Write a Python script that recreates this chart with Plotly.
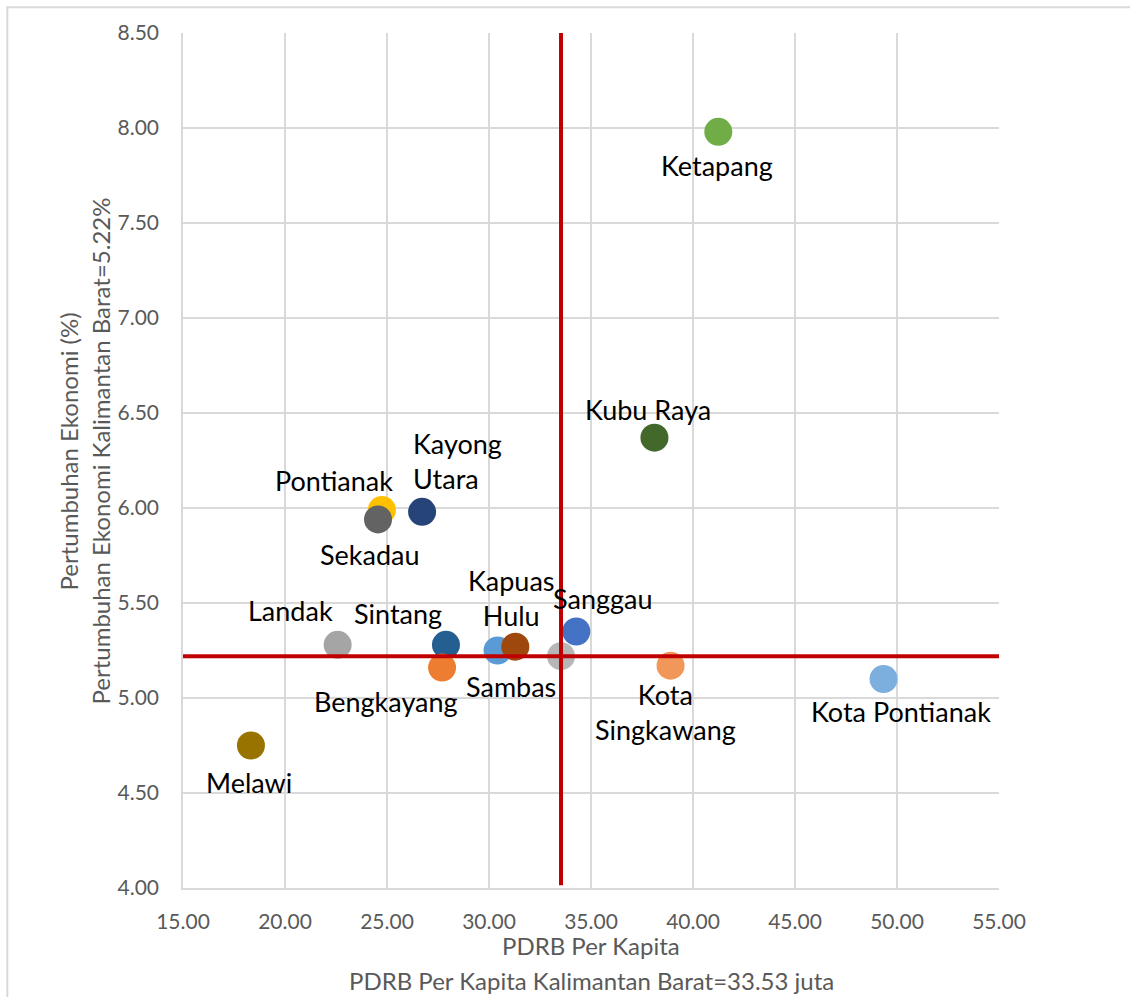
import plotly.graph_objects as go

# Kabupaten/kota data: PDRB per kapita (juta rupiah) vs pertumbuhan ekonomi (%)
regions = [
    "Ketapang", "Kubu Raya", "Kayong<br>Utara", "Pontianak", "Sekadau",
    "Landak", "Sintang", "Bengkayang", "Sambas", "Kapuas<br>Hulu",
    "Sanggau", "Kota<br>Singkawang", "Kota Pontianak", "Melawi", "",
]
pdrb_per_kapita = [41.24, 38.11, 26.72, 24.75, 24.56,
                   22.58, 27.89, 27.70, 30.42, 31.29,
                   34.28, 38.90, 49.34, 18.33, 33.53]
pertumbuhan = [7.98, 6.37, 5.98, 5.99, 5.94,
               5.28, 5.28, 5.16, 5.25, 5.27,
               5.35, 5.17, 5.10, 4.75, 5.22]

# Provincial reference values (Kalimantan Barat)
kalbar_pdrb = 33.53
kalbar_growth = 5.22

x_ticks = [15, 20, 25, 30, 35, 40, 45, 50, 55]
y_ticks = [4.0, 4.5, 5.0, 5.5, 6.0, 6.5, 7.0, 7.5, 8.0, 8.5]

colors = ["#70AD47", "#43682B", "#264478", "#FFC000", "#636363",
          "#A5A5A5", "#255E91", "#ED7D31", "#5B9BD5", "#9E480E",
          "#4472C4", "#F1975A", "#7CAFDD", "#997300", "#B7B7B7"]

# Data-label placement: (dx, dy) offset in px from the marker centre and anchor
label_offsets = [(-1, -34), (-6, 28), (-11, 51), (-48, 29), (-8, -35),
                 (-47, 34), (-48, 31), (-56, -34), (13, -36), (-4, 49),
                 (26, 33), (-5, -46), (17, -32), (-2, -37), (0, 0)]
label_anchor = ["center", "center", "left", "center", "center",
                "center", "center", "center", "center", "center",
                "center", "center", "center", "center", "center"]

FONT = "Lato"

fig = go.Figure()
fig.add_trace(go.Scatter(
    x=pdrb_per_kapita, y=pertumbuhan, mode="markers",
    marker=dict(size=28, color=colors, line=dict(width=0)),
    hoverinfo="skip", showlegend=False,
))

annotations = []
for name, xv, yv, (dx, dy), anchor in zip(regions, pdrb_per_kapita, pertumbuhan,
                                          label_offsets, label_anchor):
    if not name:
        continue
    annotations.append(dict(
        x=xv, y=yv, xref="x", yref="y", text=name, showarrow=False,
        xshift=dx, yshift=dy, xanchor=anchor, yanchor="middle",
        align=anchor, font=dict(family=FONT, size=27, color="#000000"),
    ))

title_font = dict(family=FONT, size=24, color="#595959")
annotations += [
    dict(x=0.5, y=0, xref="paper", yref="paper", text="PDRB Per Kapita",
         showarrow=False, yshift=-57, xanchor="center", yanchor="middle", font=title_font),
    dict(x=0.5, y=0, xref="paper", yref="paper",
         text=f"PDRB Per Kapita Kalimantan Barat={kalbar_pdrb:.2f} juta",
         showarrow=False, yshift=-92, xanchor="center", yanchor="middle", font=title_font),
    dict(x=0, y=0.5, xref="paper", yref="paper", text="Pertumbuhan Ekonomi (%)",
         showarrow=False, xshift=-115, yshift=9, textangle=-90,
         xanchor="center", yanchor="middle", font=title_font),
    dict(x=0, y=0.5, xref="paper", yref="paper",
         text=f"Pertumbuhan Ekonomi Kalimantan Barat={kalbar_growth:.2f}%",
         showarrow=False, xshift=-83, yshift=9, textangle=-90,
         xanchor="center", yanchor="middle", font=title_font),
]

shapes = [
    # chart-area border
    dict(type="rect", xref="paper", yref="paper", x0=-0.2153, x1=1.3, y0=-0.3, y1=1.03,
         line=dict(color="#D9D9D9", width=2), fillcolor="rgba(0,0,0,0)", layer="below"),
    # provincial average lines
    dict(type="line", xref="x", yref="y", x0=kalbar_pdrb, x1=kalbar_pdrb, y0=4.015, y1=8.51,
         line=dict(color="#C00000", width=4)),
    dict(type="line", xref="x", yref="y", x0=15, x1=55, y0=kalbar_growth, y1=kalbar_growth,
         line=dict(color="#C00000", width=4)),
]

axis_common = dict(
    showgrid=True, gridcolor="#D9D9D9", gridwidth=1.5,
    showline=True, linecolor="#D9D9D9", linewidth=1.5,
    zeroline=False, ticks="", tickformat=".2f",
    tickfont=dict(family=FONT, size=21, color="#595959"),
)

fig.update_layout(
    width=1130, height=997,
    margin=dict(l=183, r=131, t=33, b=109),
    paper_bgcolor="white", plot_bgcolor="white",
    xaxis=dict(range=[15, 55], tickvals=x_ticks, ticklabelstandoff=14, **axis_common),
    yaxis=dict(range=[4.0, 8.5], tickvals=y_ticks, ticklabelstandoff=18, **axis_common),
    annotations=annotations, shapes=shapes,
)

fig.write_html("out.html")
